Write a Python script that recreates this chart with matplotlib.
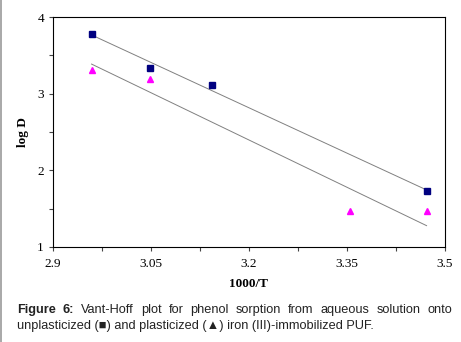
import numpy as np
import matplotlib
matplotlib.use('Agg')
import matplotlib.pyplot as plt
from matplotlib.lines import Line2D

# 1000/T and log D
x_unplast = [2.959, 3.049, 3.144, 3.472]
logd_unplast = [3.78, 3.34, 3.11, 1.73]
x_plast = [2.959, 3.049, 3.355, 3.472]
logd_plast = [3.31, 3.19, 1.47, 1.47]

xticks = [2.9, 3.05, 3.2, 3.35, 3.5]
yticks = [1, 2, 3, 4]

serif = ['Liberation Serif', 'DejaVu Serif']
sans = ['Liberation Sans', 'DejaVu Sans']

fig = plt.figure(figsize=(4.61, 3.42), dpi=100)
ax = fig.add_axes([0.115, 0.278, 0.85, 0.672])

# trend lines (least squares)
for xs, ys in [(x_unplast, logd_unplast), (x_plast, logd_plast)]:
    k, b = np.polyfit(xs, ys, 1)
    xx = np.array([min(xs), max(xs)])
    ax.plot(xx, k * xx + b, color='#808080', lw=0.7, zorder=1)

ax.plot(x_unplast, logd_unplast, 's', color='#000080', ms=4.5, zorder=3)
ax.plot(x_plast, logd_plast, '^', color='#ff00ff', ms=5, zorder=3)

ax.set_xlim(2.9, 3.5)
ax.set_ylim(1, 4)
ax.set_xticks(xticks)
ax.set_xticklabels([str(v) for v in xticks], family=serif, fontsize=9.5)
ax.set_xticks(np.arange(2.9, 3.51, 0.075), minor=True)
ax.set_yticks(yticks)
ax.set_yticklabels([str(v) for v in yticks], family=serif, fontsize=9.5)
ax.set_yticks([1.5, 2.5, 3.5], minor=True)
ax.tick_params(which='both', direction='out', length=3, width=0.8, color='#444444')
ax.tick_params(axis='x', which='major', pad=5)
for s in ax.spines.values():
    s.set_linewidth(0.8)

ax.set_xlabel('1000/T', family=serif, fontweight='bold', fontsize=9.5, labelpad=6)
ax.set_ylabel('log D', family=serif, fontweight='bold', fontsize=9.5, labelpad=6)

# caption, first line justified between x0 and x1 pixels
cap_size = 9.2
x0, x1 = 17, 452
fig.canvas.draw()
r = fig.canvas.get_renderer()
words = [('Figure', 'bold'), ('6:', 'bold')] + [(w, 'normal') for w in
         'Vant-Hoff plot for phenol sorption from aqueous solution onto'.split()]
arts = []
for w, fw in words:
    arts.append(fig.text(0, 1 - 310 / 342, w, family=sans, fontweight=fw,
                         fontsize=cap_size, va='center', color='#222222'))
widths = [a.get_window_extent(r).width for a in arts]
gap = (x1 - x0 - sum(widths)) / (len(arts) - 1)
pos = x0
for a, w in zip(arts, widths):
    a.set_x(pos / 461)
    pos += w + gap
fig.text(x0 / 461, 1 - 326 / 342,
         'unplasticized (\u25a0) and plasticized (\u25b2) iron (III)-immobilized PUF.',
         family=sans, fontsize=cap_size, va='center', color='#222222')

fig.add_artist(Line2D([0.002, 0.002], [0, 1], transform=fig.transFigure,
                      color='#999999', lw=1.2))

fig.savefig('out.png', dpi=100)
